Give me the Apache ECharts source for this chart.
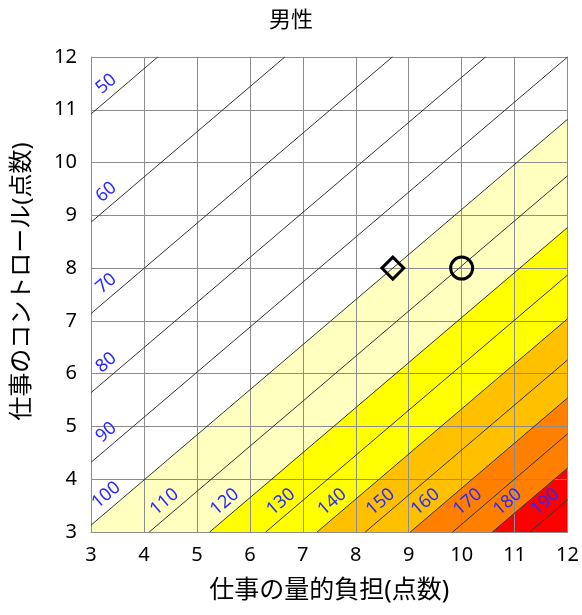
<!DOCTYPE html>
<html>
<head>
<meta charset="utf-8">
<script src="https://cdn.jsdelivr.net/npm/echarts@6/dist/echarts.min.js"></script>
<style>
  html, body { margin: 0; padding: 0; background: #fff; }
  #main { width: 582px; height: 615px; }
</style>
</head>
<body>
<div id="main"></div>
<script>
// risk contour levels and where each line meets the plot frame
const riskLevels = [50, 60, 70, 80, 90, 100, 110, 120, 130, 140, 150, 160, 170, 180, 190];
const lineStarts = [
  [3, 10.92], [3, 8.87], [3, 7.14], [3, 5.64], [3, 4.32], [3, 3.13],
  [4.10, 3], [5.24, 3], [6.30, 3], [7.27, 3], [8.18, 3], [9.03, 3], [9.83, 3], [10.58, 3], [11.29, 3]
];
const lineEnds = [
  [4.26, 12], [6.66, 12], [8.69, 12], [10.45, 12], [12, 12], [12, 10.82],
  [12, 9.75], [12, 8.77], [12, 7.87], [12, 7.04], [12, 6.26], [12, 5.54], [12, 4.86], [12, 4.21], [12, 3.61]
];
// shaded bands start at these levels
const bandLevels = [100, 120, 140, 160, 180];
const bandColors = ['#ffffc0', '#ffff00', '#ffc000', '#ff8000', '#ff0000'];

// markers: national average (diamond) and this group (circle)
const markerPoints = [[8.7, 8.0], [10.0, 8.0]];
const markerSymbols = ['diamond', 'circle'];

const xMin = 3, xMax = 12, yMin = 3, yMax = 12;

const chartDom = document.getElementById('main');
const myChart = echarts.init(chartDom);
const FONT = 'Noto Sans, Noto Sans CJK JP, sans-serif';

// area below/right of each band line
const bandData = bandLevels.map((lv) => {
  const i = riskLevels.indexOf(lv);
  const s = lineStarts[i], e = lineEnds[i];
  const poly = [s, e];
  if (e[1] >= yMax) poly.push([xMax, yMax]);
  poly.push([xMax, yMin]);
  if (s[0] <= xMin) poly.push([xMin, yMin]);
  return { value: [i], poly: poly };
});

const lineData = riskLevels.map((lv, i) => [lineStarts[i][0], lineStarts[i][1], lineEnds[i][0], lineEnds[i][1], lv]);

const option = {
  animation: false,
  title: {
    text: '男性',
    left: 'center',
    top: 5,
    textStyle: { fontSize: 22, fontWeight: 'normal', color: '#000', fontFamily: FONT }
  },
  grid: { left: 91, right: 14, top: 57, bottom: 83 },
  xAxis: {
    type: 'value', min: xMin, max: xMax, interval: 1, z: 3,
    name: '仕事の量的負担(点数)', nameLocation: 'middle', nameGap: 46,
    nameTextStyle: { fontSize: 25, color: '#000', fontFamily: FONT },
    axisLine: { show: true, lineStyle: { color: '#8c8c8c' } },
    axisTick: { show: false },
    axisLabel: { fontSize: 20, color: '#000', margin: 13, fontFamily: FONT },
    splitLine: { show: true, lineStyle: { color: '#8c8c8c', width: 1 } }
  },
  yAxis: {
    type: 'value', min: yMin, max: yMax, interval: 1, z: 3,
    name: '仕事のコントロール(点数)', nameLocation: 'middle', nameGap: 57,
    nameTextStyle: { fontSize: 24, color: '#000', fontFamily: FONT, padding: [0, 0, 0, 26] },
    axisLine: { show: true, lineStyle: { color: '#8c8c8c' } },
    axisTick: { show: false },
    axisLabel: { fontSize: 20, color: '#000', margin: 14, fontFamily: FONT },
    splitLine: { show: true, lineStyle: { color: '#8c8c8c', width: 1 } }
  },
  series: [
    {
      type: 'custom',
      z: 1,
      silent: true,
      data: bandData,
      renderItem: function (params, api) {
        const item = bandData[params.dataIndex];
        const pts = item.poly.map((p) => api.coord(p));
        return {
          type: 'polygon',
          shape: { points: pts },
          style: { fill: bandColors[params.dataIndex], stroke: null }
        };
      }
    },
    {
      type: 'custom',
      z: 4,
      silent: true,
      data: lineData,
      renderItem: function (params, api) {
        const p1 = api.coord([api.value(0), api.value(1)]);
        const p2 = api.coord([api.value(2), api.value(3)]);
        const dx = p2[0] - p1[0], dy = p2[1] - p1[1];
        const len = Math.sqrt(dx * dx + dy * dy);
        const ux = dx / len, uy = dy / len;
        const nx = uy, ny = -ux;
        const along = 31, perp = 13;
        return {
          type: 'group',
          children: [
            {
              type: 'line',
              shape: { x1: p1[0], y1: p1[1], x2: p2[0], y2: p2[1] },
              style: { stroke: '#333', lineWidth: 1 }
            },
            {
              type: 'text',
              x: p1[0] + ux * along + nx * perp,
              y: p1[1] + uy * along + ny * perp,
              rotation: Math.atan2(-dy, dx),
              style: {
                text: String(api.value(4)),
                fill: '#2a2aff',
                fontSize: 18,
                fontFamily: FONT,
                align: 'center',
                verticalAlign: 'middle'
              }
            }
          ]
        };
      }
    },
    {
      type: 'scatter',
      z: 5,
      data: markerPoints.map((p, i) => ({ value: p, symbol: markerSymbols[i] })),
      symbolSize: 22,
      itemStyle: { color: 'rgba(0,0,0,0)', borderColor: '#000', borderWidth: 3, opacity: 1 }
    }
  ]
};

myChart.setOption(option);
</script>
</body>
</html>
